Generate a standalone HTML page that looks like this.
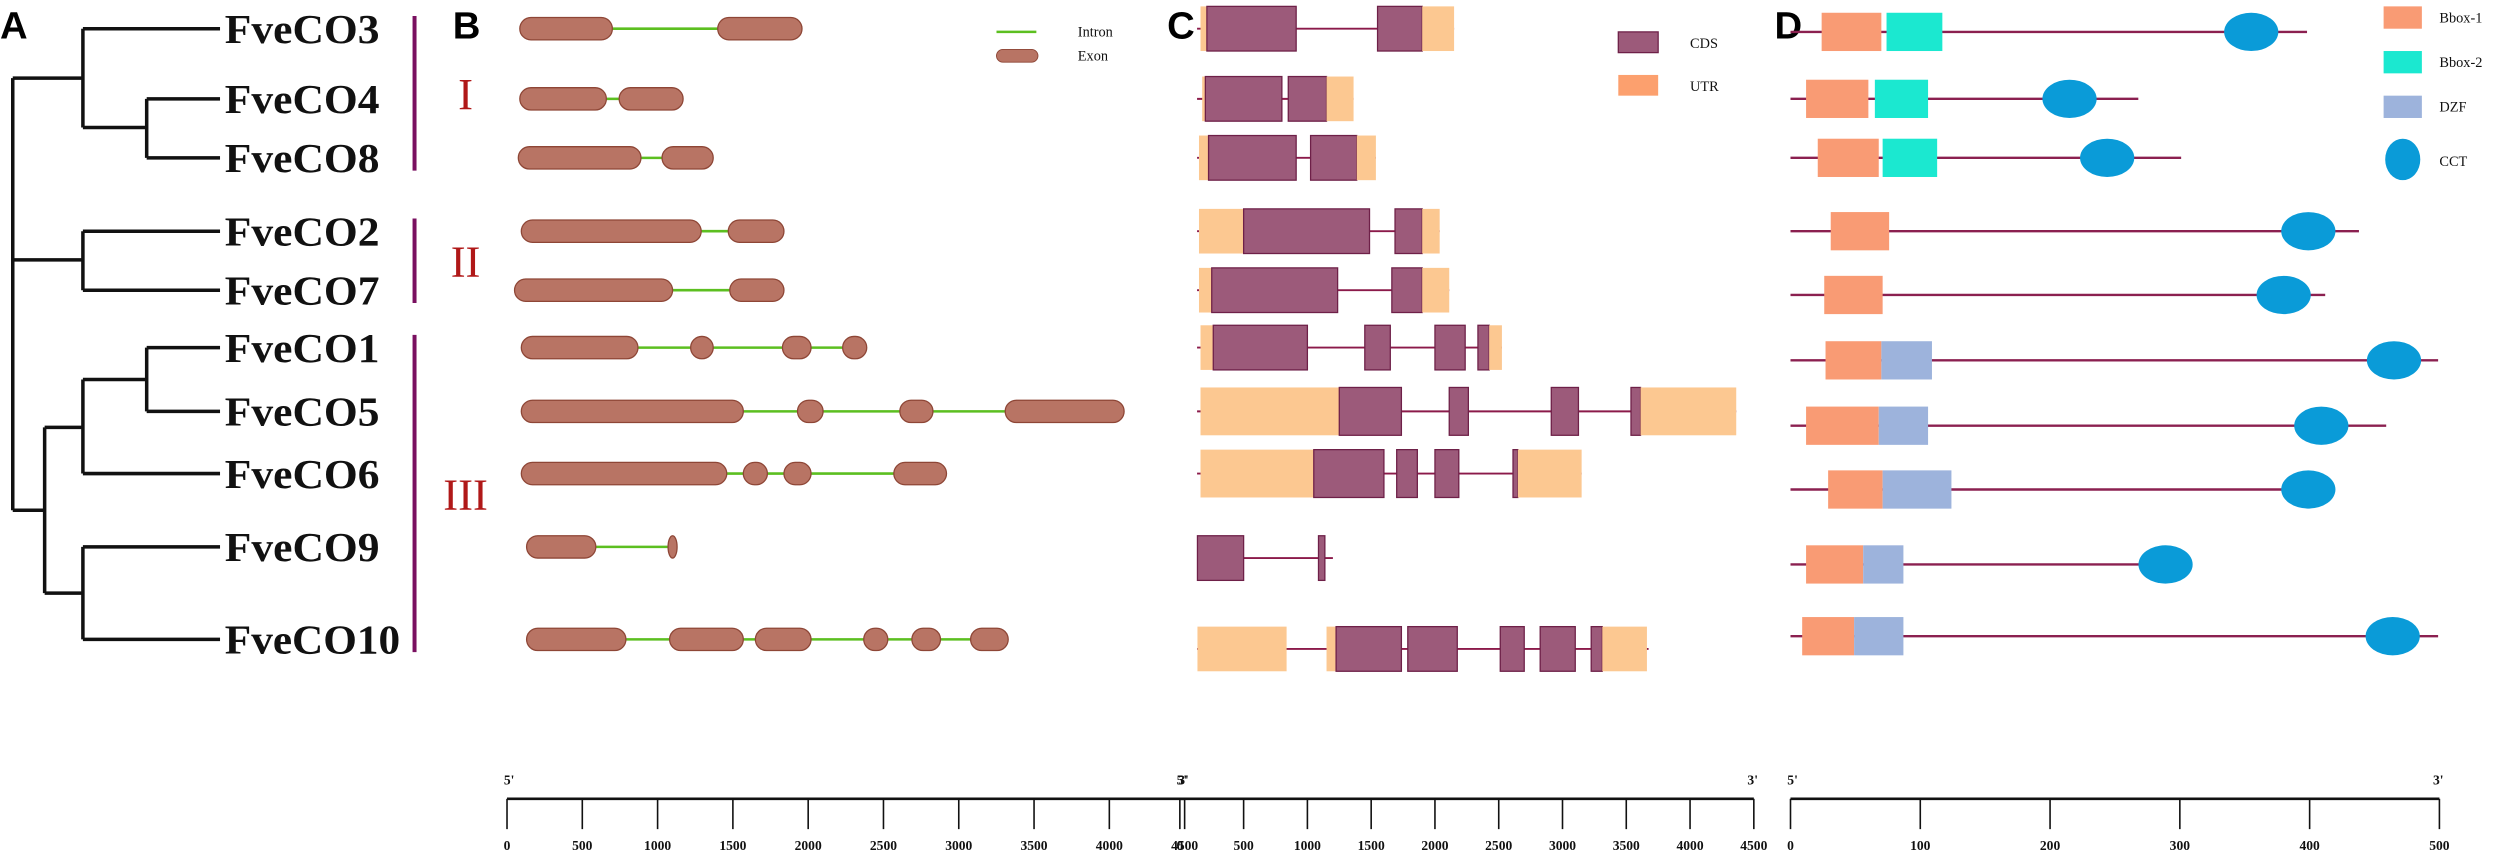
<!DOCTYPE html>
<html><head><meta charset="utf-8"><style>
html,body{margin:0;padding:0;background:#fff;}
svg{display:block;}
</style></head><body>
<svg id="fig" width="2500" height="854" viewBox="0 0 1568 535.6" preserveAspectRatio="none" xmlns="http://www.w3.org/2000/svg">
<g id="tree" stroke="#111" stroke-width="2.2" fill="none">
  <path d="M52,18 H138 M92,62 H138 M92,99 H138 M92,62 V99 M52,80 H92 M52,18 V80 M8,49 H52"/>
  <path d="M52,145 H138 M52,182 H138 M52,145 V182 M8,163 H52"/>
  <path d="M92,218 H138 M92,258 H138 M92,218 V258 M52,238 H92 M52,297 H138 M52,238 V297 M28,268 H52"/>
  <path d="M52,343 H138 M52,401 H138 M52,343 V401 M28,372 H52 M28,268 V372 M8,320 H28"/>
  <path d="M8,49 V320"/>
</g>
<g id="panel-letters" font-family="Liberation Sans, sans-serif" font-weight="bold" font-size="24" fill="#000">
  <text x="0" y="24">A</text>
  <text x="284" y="24">B</text>
  <text x="732" y="24">C</text>
  <text x="1113" y="24">D</text>
</g>
<g id="labels" font-family="Liberation Serif, serif" font-weight="bold" font-size="26" fill="#111"></g>
<g id="groups"></g>
<g id="panelB"></g>
<g id="panelC"></g>
<g id="panelD"></g>
<g id="scales" font-family="Liberation Serif, serif" font-weight="bold" font-size="8.5" fill="#111"></g>
<g id="legends" font-family="Liberation Serif, serif" font-size="9" fill="#111"></g>
</svg>
<script>
const genes = ['FveCO3','FveCO4','FveCO8','FveCO2','FveCO7','FveCO1','FveCO5','FveCO6','FveCO9','FveCO10'];
const rowY = [18,62,99,145,182,218,258,297,343,401];
const rowYC = [18,62,99,145,182,218,258,297,350,407];
const rowYD = [20,62,99,145,185,226,267,307,354,399];
// Panel B exons (bp)
const exonsB = [
 [[85,700],[1400,1960]],
 [[85,660],[745,1170]],
 [[75,890],[1030,1370]],
 [[95,1290],[1470,1840]],
 [[50,1100],[1480,1840]],
 [[95,870],[1220,1370],[1830,2020],[2230,2390]],
 [[95,1570],[1930,2100],[2610,2830],[3310,4100]],
 [[95,1460],[1570,1730],[1840,2020],[2570,2920]],
 [[130,590],[1070,1130]],
 [[130,790],[1080,1570],[1650,2020],[2370,2530],[2690,2880],[3080,3330]]
];
// Panel C segments [start,end,type] in bp
const segsC = [
 [[12,62,'U'],[62,762,'C'],[1400,1750,'C'],[1750,2000,'U']],
 [[25,50,'U'],[50,650,'C'],[700,1000,'C'],[1000,1212,'U']],
 [[0,75,'U'],[75,762,'C'],[875,1237,'C'],[1237,1387,'U']],
 [[0,350,'U'],[350,1337,'C'],[1537,1750,'C'],[1750,1887,'U']],
 [[0,100,'U'],[100,1087,'C'],[1512,1750,'C'],[1750,1962,'U']],
 [[12,112,'U'],[112,850,'C'],[1300,1500,'C'],[1850,2087,'C'],[2187,2275,'C'],[2275,2375,'U']],
 [[12,1100,'U'],[1100,1587,'C'],[1962,2112,'C'],[2762,2975,'C'],[3387,3462,'C'],[3462,4212,'U']],
 [[12,900,'U'],[900,1450,'C'],[1550,1712,'C'],[1850,2037,'C'],[2462,2500,'C'],[2500,3000,'U']],
 [[-12,350,'C'],[937,987,'C']],
 [[-12,687,'U'],[1000,1075,'U'],[1075,1587,'C'],[1637,2025,'C'],[2362,2550,'C'],[2675,2950,'C'],[3075,3162,'C'],[3162,3512,'U']]
];
const lineEndC = [2000,1212,1387,1887,1962,2375,4212,3000,1050,3525];
// Panel D proteins (aa)
const protLen = [398,268,301,438,412,499,459,412,300,499];
const bbox1 = [[24,70],[12,60],[21,68],[31,76],[26,71],[27,70],[12,68],[29,71],[12,56],[9,49]];
const bbox2 = [[74,117],[65,106],[71,113],null,null,null,null,null,null,null];
const dzf = [null,null,null,null,null,[70,109],[68,106],[71,124],[56,87],[49,87]];
const cct = [355,215,244,399,380,465,409,399,289,464];
const groupNames = ['I','II','III'];
const groupSpans = [[0,2],[3,4],[5,9]];
const ticksBC = [0,500,1000,1500,2000,2500,3000,3500,4000,4500];
const ticksD = [0,100,200,300,400,500];

const NS='http://www.w3.org/2000/svg';
function mk(parent,tag,attrs){const e=document.createElementNS(NS,tag);for(const k in attrs)e.setAttribute(k,attrs[k]);parent.appendChild(e);return e;}
const xB = bp => 318 + bp*0.0944;
const xBaxis = bp => 318 + bp*425/4500;
const xC = bp => 752 + bp*0.08;
const xCaxis = bp => 740 + bp*360/4500;
const xD = aa => 1123 + aa*0.814;

const L=document.getElementById('labels');
genes.forEach((g,i)=>{const t=mk(L,'text',{x:141,y:rowY[i]+9,textLength:g.length>6?110:97,lengthAdjust:'spacingAndGlyphs'});


t.textContent=g;});

const G=document.getElementById('groups');
groupSpans.forEach((s,i)=>{
 const y1=rowY[s[0]]-8, y2=rowY[s[1]]+8;
 const b=mk(G,'line',{x1:260,x2:260,y1:y1,y2:y2,stroke:'#7a1060','stroke-width':2.5});
 
 
 const t=mk(G,'text',{x:292,y:(y1+y2)/2+10,'text-anchor':'middle','font-family':'Liberation Serif, serif','font-size':28,fill:'#b01818'});
 
 
 t.textContent=groupNames[i];
});

const B=document.getElementById('panelB');
exonsB.forEach((ex,i)=>{
 const y=rowY[i]; const s=ex.slice().sort((a,b)=>a[0]-b[0]);
 const ln=mk(B,'line',{x1:xB(s[0][1]),x2:xB(s[s.length-1][0]),y1:y,y2:y,stroke:'#5cbf20','stroke-width':1.6});
 
 
 s.forEach(e=>{const w=xB(e[1])-xB(e[0]);
  const r=mk(B,'rect',{x:xB(e[0]),y:y-7,width:w,height:14,rx:Math.min(7,w/2),ry:7,fill:'#b87464',stroke:'#8e4636','stroke-width':0.8});
  
  });
});

const C=document.getElementById('panelC');
segsC.forEach((sg,i)=>{
 const y=rowYC[i]; const h=(i===6||i===7)?30:28;
 const ln=mk(C,'line',{x1:xC(-15),x2:xC(lineEndC[i]),y1:y,y2:y,stroke:'#8b1a4a','stroke-width':1.2});
 
 
 sg.forEach(s=>{const isC=s[2]==='C';
  const r=mk(C,'rect',{x:xC(s[0]),y:y-h/2,width:xC(s[1])-xC(s[0]),height:h,fill:isC?'#9c5a7a':'#fcc891',stroke:isC?'#6e2048':'none','stroke-width':isC?0.8:0});
  
  });
});

const D=document.getElementById('panelD');
protLen.forEach((len,i)=>{
 const y=rowYD[i];
 const ln=mk(D,'line',{x1:xD(0),x2:xD(len),y1:y,y2:y,stroke:'#8b2050','stroke-width':1.5});
 
 
 const dom=(d,fill,name)=>{if(!d)return;const r=mk(D,'rect',{x:xD(d[0]),y:y-12,width:xD(d[1])-xD(d[0]),height:24,fill:fill});
  
  };
 dom(bbox1[i],'#f99b74','bbox1-domain');
 dom(bbox2[i],'#1be8d0','bbox2-domain');
 dom(dzf[i],'#9db3dc','dzf-domain');
 const e=mk(D,'ellipse',{cx:xD(cct[i]),cy:y,rx:17,ry:12,fill:'#0a9bd8'});
 
 
});

const S=document.getElementById('scales');
function scale(x0,x1,ticks,fx,name){
 const g=mk(S,'g',{});
 
 
 mk(g,'line',{x1:x0,x2:x1,y1:501,y2:501,stroke:'#111','stroke-width':1.6});
 ticks.forEach(t=>{const x=fx(t);mk(g,'line',{x1:x,x2:x,y1:501,y2:520,stroke:'#111','stroke-width':1});
  const tx=mk(g,'text',{x:x,y:533,'text-anchor':'middle'});tx.textContent=t;});
 const a=mk(g,'text',{x:x0-2,y:492});a.textContent="5'";
 const b=mk(g,'text',{x:x1-4,y:492});b.textContent="3'";
}
scale(318,743,ticksBC,xBaxis,'scale-bar-b');
scale(740,1100,ticksBC,xCaxis,'scale-bar-c');
scale(1123,1530,ticksD,xD,'scale-bar-d');

const LG=document.getElementById('legends');
function leg(name,draw,label,tx,ty){const g=mk(LG,'g',{});draw(g);const t=mk(g,'text',{x:tx,y:ty});t.textContent=label;}
leg('legend-intron',g=>mk(g,'line',{x1:625,x2:650,y1:20,y2:20,stroke:'#5cbf20','stroke-width':1.6}),'Intron',676,23);
leg('legend-exon',g=>mk(g,'rect',{x:625,y:31,width:26,height:8,rx:4,fill:'#b87464',stroke:'#8e4636','stroke-width':0.6}),'Exon',676,38);
leg('legend-cds',g=>mk(g,'rect',{x:1015,y:20,width:25,height:13,fill:'#9c5a7a',stroke:'#6e2048','stroke-width':0.8}),'CDS',1060,30);
leg('legend-utr',g=>mk(g,'rect',{x:1015,y:47,width:25,height:13,fill:'#fca06e'}),'UTR',1060,57);
leg('legend-bbox1',g=>mk(g,'rect',{x:1495,y:4,width:24,height:14,fill:'#f99b74'}),'Bbox-1',1530,14);
leg('legend-bbox2',g=>mk(g,'rect',{x:1495,y:32,width:24,height:14,fill:'#1be8d0'}),'Bbox-2',1530,42);
leg('legend-dzf',g=>mk(g,'rect',{x:1495,y:60,width:24,height:14,fill:'#9db3dc'}),'DZF',1530,70);
leg('legend-cct',g=>mk(g,'ellipse',{cx:1507,cy:100,rx:11,ry:13,fill:'#0a9bd8'}),'CCT',1530,104);
</script>
</body></html>
